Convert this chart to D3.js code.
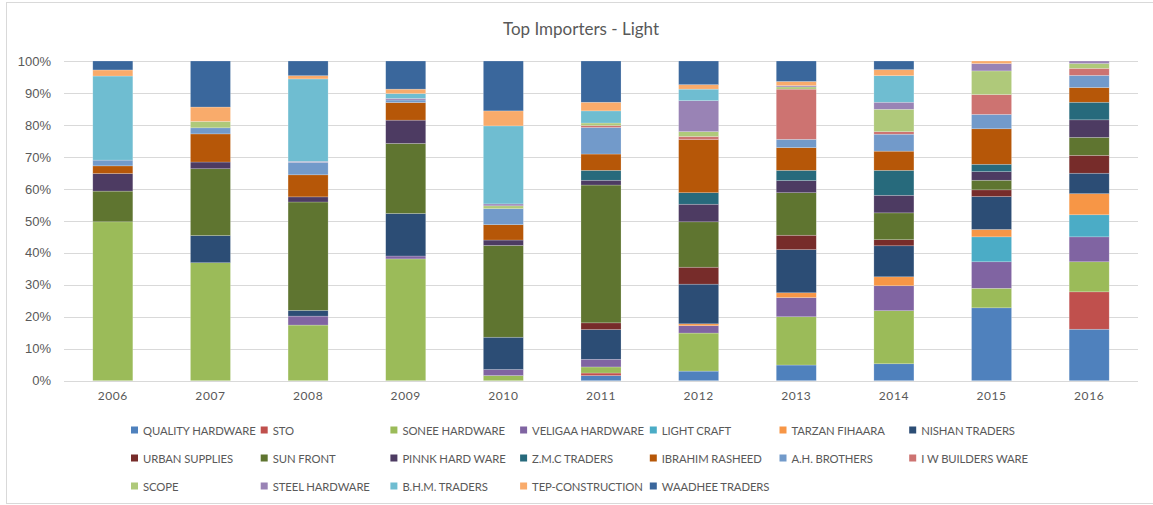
<!DOCTYPE html>
<html>
<head>
<meta charset="utf-8">
<script src="https://cdn.jsdelivr.net/npm/d3@7"></script>
<style>
  html, body { margin: 0; padding: 0; background: #fff; }
  svg { display: block; }
</style>
</head>
<body>
<svg id="chart" width="1153" height="505"></svg>
<script>
const years = ["2006","2007","2008","2009","2010","2011","2012","2013","2014","2015","2016"];
const seriesNames = ["QUALITY HARDWARE","STO","SONEE HARDWARE","VELIGAA HARDWARE","LIGHT CRAFT","TARZAN FIHAARA","NISHAN TRADERS",
  "URBAN SUPPLIES","SUN FRONT","PINNK HARD WARE","Z.M.C TRADERS","IBRAHIM RASHEED","A.H. BROTHERS","I W BUILDERS WARE",
  "SCOPE","STEEL HARDWARE","B.H.M. TRADERS","TEP-CONSTRUCTION","WAADHEE TRADERS"];
const seriesColors = ["#4F81BD","#C0504D","#9BBB59","#8064A2","#4BACC6","#F79646","#2C4D75",
  "#772C2A","#5F7530","#4D3B62","#276A7C","#B65708","#729ACA","#CD7371",
  "#AFC97A","#9983B5","#6FBDD1","#F9AB6B","#3A679C"];

// share (%) per year, 2006..2016
const qualityHardware = [0,0,0,0,0,1.6,3.0,4.9,5.3,22.8,16.1];
const sto             = [0,0,0,0,0,0.8,0,0,0,0,11.7];
const soneeHardware   = [49.7,36.9,17.4,38.1,1.6,1.9,11.9,15.1,16.6,6.1,9.4];
const veligaaHardware = [0,0,2.8,0.9,1.9,2.4,2.3,6.0,7.8,8.3,7.8];
const lightCraft      = [0,0,0,0,0,0,0,0,0,7.8,6.9];
const tarzanFihaara   = [0,0,0,0,0,0,0.6,1.5,2.8,2.3,6.6];
const nishanTraders   = [0,8.5,1.8,13.3,10.1,9.3,12.4,13.5,9.7,10.3,6.4];
const urbanSupplies   = [0,0,0,0,0,2.1,5.3,4.5,1.9,2.1,5.6];
const sunFront        = [9.6,20.9,33.9,21.9,28.7,43.1,14.2,13.3,8.4,3.0,5.6];
const pinnkHardWare   = [5.5,2.1,1.6,7.3,1.7,1.5,5.5,3.8,5.5,2.7,5.5];
const zmcTraders      = [0,0,0,0,0,3.1,3.6,3.2,7.8,2.3,5.5];
const ibrahimRasheed  = [2.4,8.8,6.9,5.5,4.8,5.1,16.6,7.1,6.0,11.1,4.6];
const ahBrothers      = [1.8,1.9,3.9,0.8,5.0,8.3,0,2.6,5.3,4.5,3.8];
const iwBuildersWare  = [0,0,0,0,0,0.6,1.0,15.7,0.8,6.2,2.2];
const scope           = [0,2.0,0,0,0.9,0.8,1.5,0.7,7.0,7.4,1.5];
const steelHardware   = [0,0,0.3,0.5,0.6,0,9.7,0.4,2.2,2.3,0.8];
const bhmTraders      = [26.3,0,25.8,1.5,24.4,3.8,3.6,0,8.3,0,0];
const tepConstruction = [1.9,4.5,1.0,1.4,4.7,2.7,1.4,1.3,1.9,0.8,0];
const waadheeTraders  = [2.8,14.4,4.6,8.8,15.6,12.9,7.4,6.4,2.7,0,0];

const yTickValues = [0,0.1,0.2,0.3,0.4,0.5,0.6,0.7,0.8,0.9,1.0];

const seriesValues = [qualityHardware,sto,soneeHardware,veligaaHardware,lightCraft,tarzanFihaara,nishanTraders,
  urbanSupplies,sunFront,pinnkHardWare,zmcTraders,ibrahimRasheed,ahBrothers,iwBuildersWare,
  scope,steelHardware,bhmTraders,tepConstruction,waadheeTraders];

const table = years.map((yr, i) => {
  const row = { year: yr };
  seriesNames.forEach((n, s) => row[n] = seriesValues[s][i]);
  return row;
});

const svg = d3.select("#chart");
const textColor = "#595959";
const gridColor = "#D9D9D9";

// outer chart border
svg.append("rect").attr("x", 6.5).attr("y", 2.5).attr("width", 1160).attr("height", 501)
  .attr("fill", "#fff").attr("stroke", gridColor).attr("stroke-width", 1);

const plot = { left: 64, right: 1138, top: 61, bottom: 380.7 };

const x = d3.scaleBand().domain(years).range([plot.left, plot.right])
  .paddingInner(0.59).paddingOuter(0.295);
const y = d3.scaleLinear().domain([0, 1]).range([plot.bottom, plot.top]);

// title
svg.append("text").attr("x", 581).attr("y", 28).attr("text-anchor", "middle")
  .attr("dominant-baseline", "central")
  .style("font-family", "Lato, 'Open Sans', sans-serif").style("font-size", "17px")
  .attr("fill", textColor).text("Top Importers - Light");

// gridlines
svg.append("g").selectAll("line").data(yTickValues).join("line")
  .attr("x1", plot.left).attr("x2", plot.right)
  .attr("y1", d => Math.round(y(d)) + 0.5).attr("y2", d => Math.round(y(d)) + 0.5)
  .attr("stroke", gridColor).attr("stroke-width", 1);

// y axis labels
const yAxis = d3.axisLeft(y).tickValues(yTickValues).tickFormat(d3.format(".0%")).tickSize(0).tickPadding(0);
const gy = svg.append("g").attr("transform", `translate(${plot.left - 13},0)`).call(yAxis);
gy.select(".domain").remove();
gy.selectAll("text").attr("fill", textColor)
  .style("font-family", "'Liberation Sans', Arial, sans-serif").style("font-size", "13px");

// stacked bars
const stack = d3.stack().keys(seriesNames).offset(d3.stackOffsetExpand);
const layers = stack(table);

svg.append("g").selectAll("g").data(layers).join("g")
  .attr("fill", (d, i) => seriesColors[i])
  .selectAll("rect").data(d => d.filter(p => p[1] - p[0] > 0)).join("rect")
  .attr("x", d => x(d.data.year))
  .attr("width", x.bandwidth())
  .attr("y", d => y(d[1]))
  .attr("height", d => y(d[0]) - y(d[1]))
  .attr("stroke", "rgba(255,255,255,0.35)")
  .attr("stroke-width", 0.6);

// x axis labels
const xAxis = d3.axisBottom(x).tickSize(0).tickPadding(0);
const gx = svg.append("g").attr("transform", `translate(0,${plot.bottom + 11})`).call(xAxis);
gx.select(".domain").remove();
gx.selectAll("text").attr("fill", textColor)
  .style("font-family", "Lato, 'Open Sans', sans-serif").style("font-size", "12px")
  .style("letter-spacing", "0.6px");

// legend
const legendCols = 7, colStep = 129.7, legendX0 = 131, rowY0 = 430, rowStep = 28;
const legend = svg.append("g").selectAll("g").data(seriesNames).join("g")
  .attr("transform", (d, i) => `translate(${legendX0 + (i % legendCols) * colStep},${rowY0 + Math.floor(i / legendCols) * rowStep})`);
legend.append("rect").attr("x", 0).attr("y", -3.5).attr("width", 7).attr("height", 7)
  .attr("fill", (d, i) => seriesColors[i]);
legend.append("text").attr("x", 12).attr("y", 0).attr("dominant-baseline", "central")
  .style("font-family", "Lato, 'Open Sans', sans-serif").style("font-size", "11.3px")
  .style("letter-spacing", "-0.1px")
  .attr("fill", textColor).text(d => d);
</script>
</body>
</html>
